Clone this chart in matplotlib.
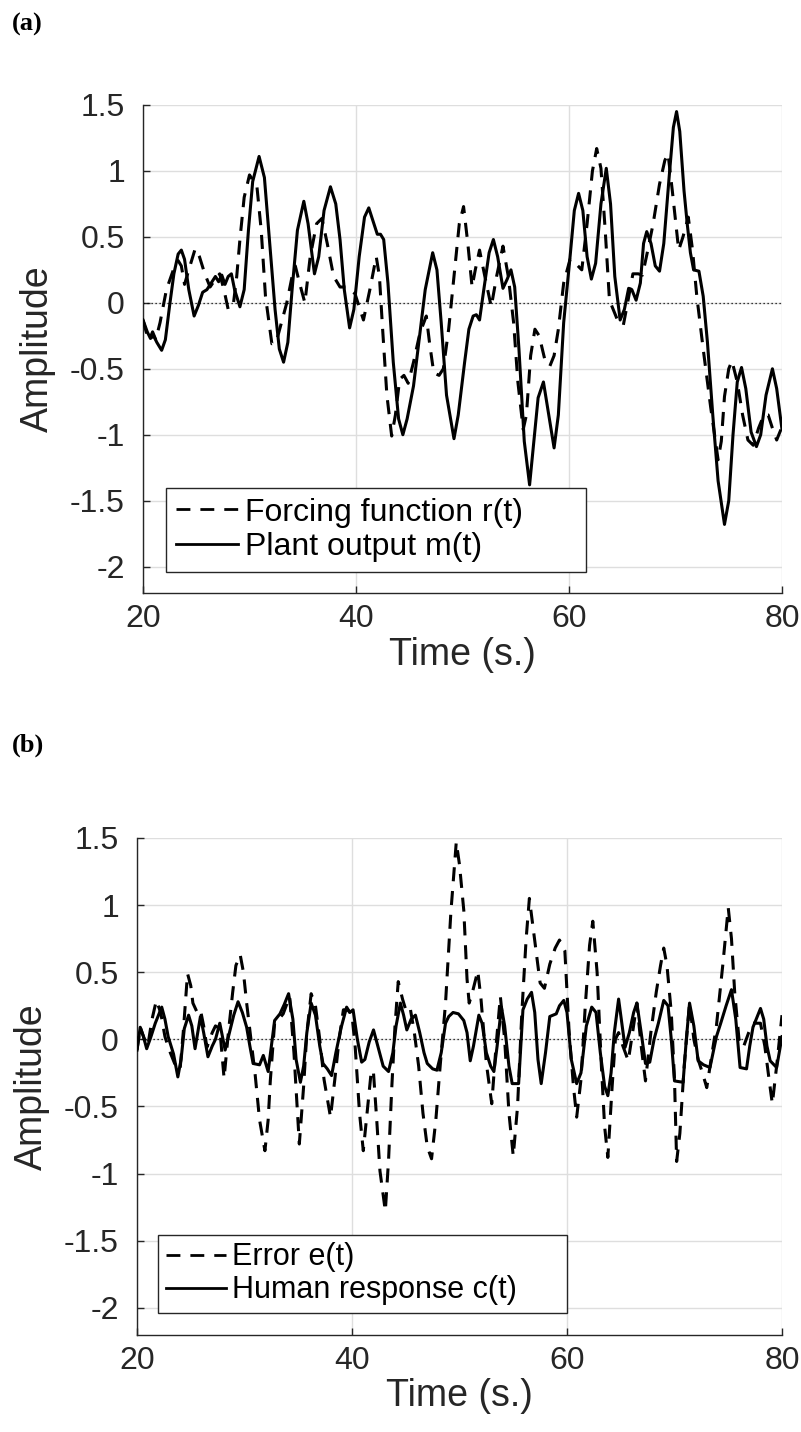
import matplotlib
matplotlib.use("Agg")
import matplotlib.pyplot as plt
from matplotlib.ticker import FuncFormatter

# ---- panel (a): forcing function r(t) and plant output m(t) ----
t_r = [20.0, 20.3, 20.6, 20.9, 21.2, 21.6, 22.2, 22.85, 23.3, 23.6, 23.9, 24.3, 24.9, 25.3,
       25.8, 26.3, 26.8, 27.2, 27.6, 28.0, 28.5, 28.8, 29.1, 29.5, 30.0, 30.4, 30.7, 31.1,
       31.5, 32.1, 32.5, 33.0, 33.5, 34.0, 34.3, 34.7, 35.2, 35.7, 36.3, 36.8, 37.3, 37.9,
       38.5, 39.1, 39.9, 40.7, 41.3, 41.9, 42.2, 42.5, 42.9, 43.35, 43.7, 44.1, 44.5, 44.9,
       45.4, 46.0, 46.6, 46.9, 47.3, 47.8, 48.2, 48.7, 49.2, 49.7, 50.1, 50.5, 50.9, 51.2,
       51.6, 52.1, 52.7, 53.2, 53.8, 54.3, 54.8, 55.2, 55.7, 56.0, 56.4, 56.8, 57.2, 57.7,
       58.2, 58.6, 59.0, 59.5, 60.1, 60.6, 61.2, 61.7, 62.2, 62.6, 63.0, 63.4, 63.8, 64.5,
       65.1, 65.5, 66.0, 66.5, 66.9, 67.4, 67.9, 68.5, 69.0, 69.3, 69.7, 70.3, 70.7, 71.2,
       71.6, 72.0, 72.6, 73.3, 74.0, 74.3, 74.6, 75.0, 75.3, 75.8, 76.3, 76.8, 77.3, 77.8,
       78.3, 78.7, 79.1, 79.5, 80.0]
r_vals = [-0.13, -0.22, -0.28, -0.22, -0.28, -0.15, 0.10, 0.25, 0.32, 0.28, 0.14, 0.25, 0.41, 0.35,
          0.22, 0.12, 0.18, 0.22, 0.10, -0.05, 0.00, 0.20, 0.48, 0.80, 0.97, 0.92, 0.88, 0.55,
          0.05, -0.31, -0.30, -0.15, 0.00, 0.20, 0.28, 0.15, 0.00, 0.35, 0.60, 0.64, 0.45, 0.20,
          0.12, 0.12, 0.07, -0.13, 0.10, 0.35, 0.20, -0.20, -0.70, -1.01, -0.85, -0.58, -0.55, -0.61,
          -0.45, -0.23, -0.10, -0.30, -0.53, -0.55, -0.50, -0.20, 0.20, 0.60, 0.73, 0.45, 0.12, 0.25,
          0.40, 0.20, -0.03, 0.20, 0.43, 0.20, -0.15, -0.60, -0.96, -0.85, -0.40, -0.20, -0.25, -0.42,
          -0.48, -0.40, -0.20, 0.15, 0.33, 0.30, 0.25, 0.60, 1.00, 1.17, 1.02, 0.55, 0.02, -0.12,
          -0.17, 0.00, 0.22, 0.22, 0.21, 0.40, 0.60, 0.90, 1.08, 1.13, 0.85, 0.40, 0.50, 0.65,
          0.40, 0.05, -0.35, -0.79, -1.19, -1.05, -0.71, -0.50, -0.44, -0.60, -0.85, -1.04, -1.08, -0.95,
          -0.85, -0.85, -0.95, -1.04, -0.94]

t_m = [20.0, 20.4, 20.7, 21.0, 21.3, 21.75, 22.1, 22.5, 22.9, 23.3, 23.6, 23.9, 24.3, 24.8,
       25.2, 25.6, 26.0, 26.4, 26.8, 27.1, 27.4, 27.7, 28.0, 28.3, 28.6, 29.1, 29.5, 29.9,
       30.3, 30.9, 31.4, 31.9, 32.4, 32.8, 33.2, 33.6, 34.0, 34.5, 35.1, 35.5, 36.1, 36.5,
       37.0, 37.6, 38.1, 38.5, 38.9, 39.4, 39.8, 40.3, 40.8, 41.2, 41.6, 42.0, 42.3, 42.6,
       43.0, 43.5, 44.0, 44.4, 44.8, 45.4, 45.9, 46.5, 47.2, 47.6, 48.0, 48.5, 49.2, 49.6,
       50.2, 50.6, 51.0, 51.3, 51.6, 52.0, 52.5, 52.9, 53.3, 53.8, 54.2, 54.55, 54.9, 55.3,
       55.8, 56.3, 56.7, 57.1, 57.6, 58.0, 58.6, 59.0, 59.5, 60.1, 60.5, 60.9, 61.3, 61.7,
       62.1, 62.5, 63.0, 63.5, 63.9, 64.3, 64.8, 65.2, 65.6, 65.9, 66.3, 66.7, 67.0, 67.3,
       67.7, 68.1, 68.5, 68.9, 69.4, 69.8, 70.1, 70.4, 70.8, 71.1, 71.4, 71.7, 72.2, 72.6,
       73.0, 73.5, 74.0, 74.6, 75.0, 75.4, 75.8, 76.2, 76.6, 77.1, 77.6, 78.0, 78.5, 79.1,
       79.5, 80.0]
m_vals = [-0.13, -0.22, -0.27, -0.25, -0.30, -0.36, -0.28, -0.02, 0.22, 0.37, 0.40, 0.33, 0.10, -0.10,
          -0.02, 0.08, 0.10, 0.15, 0.20, 0.16, 0.21, 0.14, 0.20, 0.22, 0.10, -0.03, 0.10, 0.55,
          0.92, 1.11, 0.95, 0.45, -0.05, -0.35, -0.45, -0.30, 0.10, 0.55, 0.77, 0.60, 0.22, 0.35,
          0.70, 0.88, 0.75, 0.48, 0.10, -0.19, -0.05, 0.35, 0.65, 0.72, 0.62, 0.52, 0.52, 0.48,
          0.15, -0.45, -0.88, -1.00, -0.88, -0.63, -0.30, 0.10, 0.38, 0.25, -0.15, -0.70, -1.03, -0.85,
          -0.45, -0.20, -0.10, -0.09, -0.13, 0.10, 0.38, 0.48, 0.35, 0.11, 0.18, 0.25, 0.12, -0.35,
          -1.05, -1.38, -1.05, -0.72, -0.60, -0.80, -1.10, -0.85, -0.15, 0.35, 0.70, 0.83, 0.70, 0.35,
          0.18, 0.30, 0.75, 1.02, 0.75, 0.20, -0.13, -0.05, 0.11, 0.10, 0.02, 0.15, 0.45, 0.54,
          0.45, 0.28, 0.24, 0.45, 0.95, 1.33, 1.45, 1.30, 0.85, 0.60, 0.38, 0.25, 0.24, 0.05,
          -0.30, -0.85, -1.35, -1.68, -1.50, -1.00, -0.60, -0.49, -0.65, -0.98, -1.09, -1.00, -0.70, -0.50,
          -0.65, -0.96]

# ---- panel (b): error e(t) and human response c(t) ----
t_e = [20.0, 20.3, 20.7, 21.0, 21.4, 21.8, 22.2, 22.6, 23.0, 23.5, 24.0, 24.3, 24.7, 25.0,
       25.2, 25.6, 25.9, 26.2, 26.5, 27.0, 27.3, 27.7, 28.1, 28.5, 28.9, 29.2, 29.6, 29.9,
       30.2, 30.6, 31.0, 31.4, 31.9, 32.2, 32.4, 32.8, 33.2, 33.6, 34.2, 34.6, 35.1, 35.5,
       35.8, 36.2, 36.6, 37.0, 37.4, 38.0, 38.4, 38.8, 39.2, 39.6, 40.0, 40.3, 40.7, 41.05,
       41.4, 41.8, 42.0, 42.3, 42.6, 43.1, 43.4, 43.7, 44.0, 44.3, 44.7, 45.0, 45.4, 45.8,
       46.2, 46.6, 47.0, 47.4, 47.8, 48.2, 48.7, 49.2, 49.7, 50.0, 50.4, 50.7, 50.9, 51.2,
       51.7, 52.0, 52.5, 53.0, 53.4, 53.8, 54.2, 54.6, 55.0, 55.4, 55.8, 56.2, 56.5, 56.9,
       57.5, 57.9, 58.4, 58.9, 59.3, 59.8, 60.2, 60.6, 60.9, 61.3, 61.7, 62.1, 62.4, 62.8,
       63.2, 63.5, 63.8, 64.2, 64.5, 64.8, 65.2, 65.7, 66.1, 66.5, 66.9, 67.3, 67.8, 68.3,
       68.7, 69.0, 69.3, 69.7, 70.0, 70.2, 70.5, 70.9, 71.4, 71.8, 72.2, 72.6, 73.0, 73.5,
       73.9, 74.5, 75.0, 75.3, 75.6, 76.0, 76.4, 76.9, 77.3, 78.0, 78.4, 78.8, 79.1, 79.5,
       80.0]
e_vals = [-0.08, 0.09, 0.00, -0.05, 0.15, 0.29, 0.20, 0.02, -0.08, -0.18, -0.23, 0.05, 0.49, 0.40,
          0.27, 0.20, 0.22, 0.10, -0.06, 0.05, 0.10, 0.08, -0.29, 0.05, 0.35, 0.55, 0.63, 0.50,
          0.27, 0.00, -0.27, -0.60, -0.83, -0.60, -0.31, 0.12, 0.15, 0.19, 0.32, -0.10, -0.78, -0.35,
          0.05, 0.34, 0.25, 0.00, -0.30, -0.58, -0.30, 0.00, 0.22, 0.22, 0.18, -0.06, -0.55, -0.83,
          -0.55, -0.23, -0.25, -0.60, -0.98, -1.28, -0.90, -0.36, 0.10, 0.43, 0.30, 0.22, 0.24, 0.05,
          -0.20, -0.55, -0.80, -0.89, -0.60, -0.20, 0.27, 0.95, 1.47, 1.30, 0.96, 0.45, 0.27, 0.35,
          0.51, 0.30, -0.18, -0.48, -0.05, 0.32, 0.00, -0.55, -0.87, -0.50, 0.20, 0.75, 1.05, 0.80,
          0.42, 0.38, 0.56, 0.68, 0.74, 0.66, 0.05, -0.35, -0.58, -0.30, 0.25, 0.70, 0.88, 0.50,
          -0.20, -0.65, -0.88, -0.35, 0.00, 0.05, -0.05, -0.16, 0.05, 0.27, -0.05, -0.31, 0.05, 0.35,
          0.55, 0.68, 0.55, 0.20, -0.30, -0.91, -0.70, -0.20, 0.27, 0.00, -0.15, -0.25, -0.36, -0.10,
          0.10, 0.56, 0.98, 0.75, 0.35, 0.00, -0.06, 0.05, 0.12, 0.12, -0.05, -0.30, -0.48, -0.20,
          0.18]

t_c = [20.0, 20.3, 20.6, 20.9, 21.3, 21.7, 22.3, 22.6, 22.9, 23.4, 23.8, 24.1, 24.4, 24.8,
       25.1, 25.4, 25.9, 26.2, 26.6, 27.0, 27.3, 27.7, 28.2, 28.6, 29.0, 29.4, 29.8, 30.2,
       30.5, 30.8, 31.4, 31.75, 32.2, 32.5, 32.8, 33.3, 33.7, 34.1, 34.5, 34.8, 35.2, 35.5,
       35.8, 36.2, 36.6, 37.0, 37.3, 37.7, 38.1, 38.5, 39.0, 39.5, 39.8, 40.1, 40.5, 40.9,
       41.2, 41.6, 42.0, 42.4, 42.9, 43.4, 43.8, 44.1, 44.5, 44.8, 45.1, 45.5, 45.9, 46.3,
       46.7, 47.0, 47.5, 47.9, 48.3, 48.7, 49.0, 49.4, 49.9, 50.4, 50.7, 51.0, 51.3, 51.8,
       52.1, 52.5, 52.9, 53.2, 53.5, 53.9, 54.2, 54.6, 54.9, 55.5, 55.9, 56.3, 56.7, 57.0,
       57.3, 57.6, 58.0, 58.4, 59.0, 59.3, 59.7, 60.0, 60.4, 60.9, 61.3, 61.8, 62.3, 62.7,
       63.1, 63.5, 63.8, 64.1, 64.4, 64.8, 65.1, 65.4, 65.8, 66.2, 66.5, 66.9, 67.3, 67.7,
       68.1, 68.5, 69.0, 69.4, 69.7, 70.0, 70.8, 71.1, 71.4, 71.8, 72.2, 72.7, 73.3, 73.9,
       74.3, 74.8, 75.3, 75.7, 76.1, 76.7, 77.0, 77.3, 77.6, 78.0, 78.3, 78.6, 78.9, 79.5,
       80.0]
c_vals = [-0.08, 0.09, 0.02, -0.07, 0.02, 0.12, 0.24, 0.15, 0.02, -0.11, -0.28, -0.15, 0.08, 0.18,
          0.10, -0.07, 0.17, 0.05, -0.13, -0.05, 0.00, 0.12, -0.08, 0.05, 0.18, 0.28, 0.20, 0.09,
          -0.05, -0.18, -0.19, -0.12, -0.24, -0.05, 0.14, 0.19, 0.26, 0.34, 0.15, -0.15, -0.32, -0.20,
          0.05, 0.27, 0.18, -0.05, -0.18, -0.22, -0.27, -0.10, 0.09, 0.24, 0.20, 0.22, 0.00, -0.17,
          -0.15, -0.02, 0.07, -0.05, -0.20, -0.24, -0.10, 0.10, 0.27, 0.18, 0.07, 0.15, 0.18, 0.05,
          -0.10, -0.18, -0.22, -0.23, -0.10, 0.12, 0.17, 0.20, 0.19, 0.14, 0.05, -0.16, -0.05, 0.18,
          0.12, -0.10, -0.20, -0.24, -0.05, 0.24, 0.10, -0.20, -0.33, -0.33, 0.22, 0.30, 0.35, 0.20,
          -0.15, -0.33, -0.10, 0.17, 0.19, 0.25, 0.29, 0.20, -0.15, -0.33, -0.25, 0.10, 0.24, 0.20,
          -0.10, -0.35, -0.42, -0.25, 0.05, 0.30, 0.12, -0.06, 0.05, 0.20, 0.27, 0.05, -0.18, -0.17,
          0.00, 0.12, 0.29, 0.25, 0.00, -0.31, -0.32, 0.00, 0.27, 0.10, -0.16, -0.19, -0.21, 0.02,
          0.12, 0.25, 0.37, 0.15, -0.21, -0.22, -0.05, 0.09, 0.15, 0.23, 0.15, -0.05, -0.16, -0.21,
          0.02]

x_ticks = [20, 40, 60, 80]
y_ticks = [-2, -1.5, -1, -0.5, 0, 0.5, 1, 1.5]

plt.rcParams['font.family'] = ['Liberation Sans', 'DejaVu Sans']
DARK = '#262626'
LW = 2.2


def style_axes(ax, legend_labels, legend_size, legend_pad, legend_anchor, series):
    (tx1, y1), (tx2, y2) = series
    ax.plot(tx1, y1, color='k', linewidth=LW, linestyle='--', dashes=(4.6, 3.2),
            dash_joinstyle='round', label=legend_labels[0], zorder=3)
    ax.plot(tx2, y2, color='k', linewidth=LW, linestyle='-',
            solid_joinstyle='round', label=legend_labels[1], zorder=3)
    ax.axhline(0, color='k', linewidth=0.9, linestyle=(0, (1, 2.2)), zorder=2)

    ax.set_xlim(20, 80)
    ax.set_ylim(-2.2, 1.5)
    ax.set_xticks(x_ticks)
    ax.set_yticks(y_ticks)
    ax.yaxis.set_major_formatter(FuncFormatter(lambda v, p: '%g' % v))
    ax.grid(True, color='#dedede', linewidth=1.0)
    ax.set_axisbelow(True)

    for s in ('top', 'right'):
        ax.spines[s].set_visible(False)
    for s in ('left', 'bottom'):
        ax.spines[s].set_color(DARK)
        ax.spines[s].set_linewidth(1.0)
    ax.tick_params(direction='in', length=5, width=1, colors=DARK,
                   labelsize=23, labelcolor=DARK)
    ax.tick_params(axis='y', pad=13)
    ax.tick_params(axis='x', pad=8)

    ax.set_xlabel('Time (s.)', fontsize=27, color=DARK, labelpad=2)
    ax.set_ylabel('Amplitude', fontsize=27, color=DARK, labelpad=10)

    leg = ax.legend(loc='lower left', bbox_to_anchor=legend_anchor, borderaxespad=0,
                    fontsize=legend_size, frameon=True, fancybox=False, framealpha=1,
                    edgecolor=DARK, handlelength=1.95, handletextpad=0.22,
                    borderpad=legend_pad[0], labelspacing=legend_pad[1])
    leg.get_frame().set_linewidth(1.0)
    for line in leg.get_lines():
        line.set_linewidth(2.0)
        if line.get_linestyle() == '--':
            line.set_dashes((5.0, 3.6))


fig = plt.figure(figsize=(8.01, 14.32), dpi=100)

# legend labels carry trailing blanks for the wide right margin of the original legend box
ax_a = fig.add_axes([143 / 801, 1 - 593 / 1432, 639 / 801, 488 / 1432])
style_axes(ax_a, ['Forcing function r(t)' + ' ' * 6, 'Plant output m(t)'], 23,
           (0.3, 0.15), (0.036, 0.043), [(t_r, r_vals), (t_m, m_vals)])

ax_b = fig.add_axes([137 / 801, 1 - 1334.6 / 1432, 645 / 801, 496.6 / 1432])
style_axes(ax_b, ['Error e(t)', 'Human response c(t)' + ' ' * 5], 22,
           (0.25, 0.1), (0.033, 0.0435), [(t_e, e_vals), (t_c, c_vals)])

fig.text(12 / 801, 1 - 24 / 1432, '(a)', fontsize=19, fontweight='bold',
         family='Liberation Serif', va='center', ha='left')
fig.text(12 / 801, 1 - 745 / 1432, '(b)', fontsize=19, fontweight='bold',
         family='Liberation Serif', va='center', ha='left')

fig.savefig('out.png', dpi=100)
